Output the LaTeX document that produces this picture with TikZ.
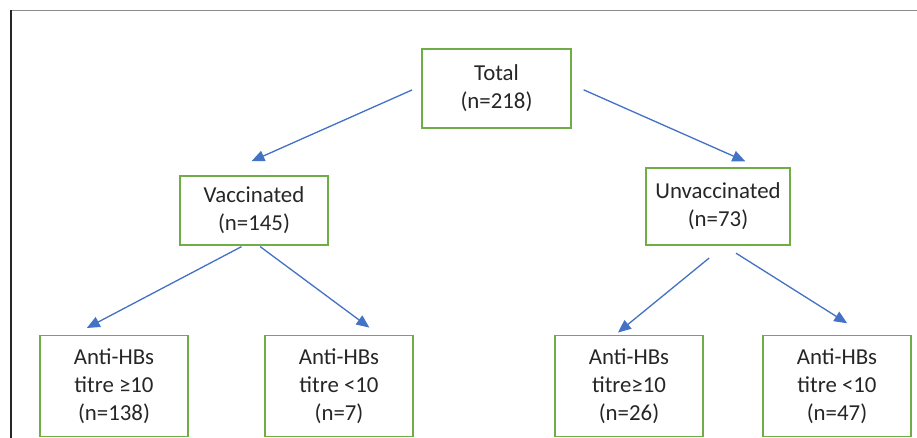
\documentclass[tikz,border=0pt]{standalone}
\usepackage{fontspec}
\setmainfont{Carlito}
\usetikzlibrary{arrows.meta}
\definecolor{boxgreen}{HTML}{70AD47}
\definecolor{arrowblue}{HTML}{4472C4}

\begin{document}
\begin{tikzpicture}[
        x=0.02cm,
        y=-0.02cm,
        >={Triangle[length=0.26cm,width=0.22cm]},
        group/.style={
          draw=boxgreen,
          line width=0.85pt,
          align=center,
          inner sep=0pt,
          text=black!85,
          font=\fontsize{13}{15.9}\selectfont
        },
        branch/.style={
          ->,
          draw=arrowblue,
          line width=0.75pt
        }
      ]
        \useasboundingbox (0,0) rectangle (917,438);
        \draw[black!45, line width=1.1pt] (10,10.5) -- (917,10.5);
        \draw[black!85, line width=0.9pt] (11,10) -- (11,438);

        \node[group,minimum width=2.98cm,minimum height=1.58cm] (tot) at (496.5,88.5) {Total\\(n=218)};
        \node[group,minimum width=2.96cm,minimum height=1.38cm] (vac) at (254,210.5) {Vaccinated\\(n=145)};
        \node[group,minimum width=2.88cm,minimum height=1.54cm] (unvac) at (718,206.5) {Unvaccinated\\(n=73)};

        \foreach \n/\x/\t/\c in {vpos/114/titre ≥10/138,vneg/339/titre <10/7,upos/629/titre≥10/26,uneg/837/titre <10/47}
          \node[group,minimum width=2.96cm,minimum height=2.02cm] (\n) at (\x,386) {Anti-HBs\\\t\\(n=\c)};

        \draw[branch,shorten <=0.2cm,shorten >=0.69cm] (tot.178) -- (vac.134);
        \draw[branch,shorten <=0.26cm,shorten >=0.29cm] (tot.3) -- (unvac.44);
        \draw[branch,shorten <=0.04cm,shorten >=0.29cm] (vac.253) -- (vpos.128);
        \draw[branch,shorten <=0.03cm,shorten >=0.24cm] (vac.278) -- (vneg.52.5);
        \draw[branch,shorten <=0.39cm,shorten >=0.07cm] (unvac.279) -- (upos.105);
        \draw[branch,shorten <=0.28cm,shorten >=0.43cm] (unvac.279) -- (uneg.61);
      \end{tikzpicture}
\end{document}
